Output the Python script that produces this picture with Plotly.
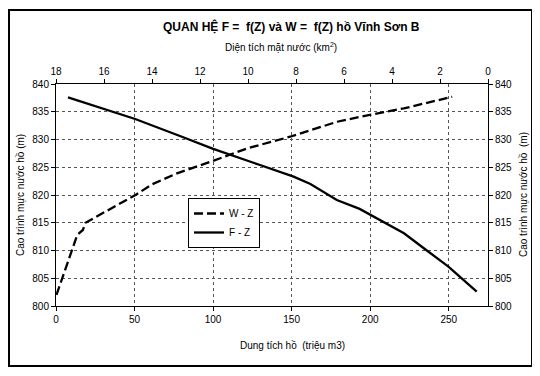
import plotly.graph_objects as go

# W - Z : storage (million m3) vs water level (m)
W_storage = [0.3, 4.0, 9.7, 13.5, 17.1, 18.8, 34.0, 50.6, 61.0, 77.0, 99.4, 121.7, 149.0, 179.0, 199.0, 221.4, 252.2]
W_level = [802.0, 805.0, 810.0, 812.8, 813.7, 815.0, 817.4, 820.0, 821.9, 823.9, 826.1, 828.4, 830.5, 833.2, 834.4, 835.6, 837.7]

# F - Z : surface area (km2) vs water level (m)
F_area = [17.5, 14.7, 12.7, 11.45, 9.5, 8.1, 7.4, 6.3, 5.35, 4.3, 3.5, 2.55, 1.65, 0.47]
F_level = [837.6, 833.7, 830.4, 828.3, 825.4, 823.3, 822.0, 819.1, 817.5, 815.0, 813.1, 810.0, 807.1, 802.6]

storage_ticks = [0, 50, 100, 150, 200, 250]
area_ticks = [18, 16, 14, 12, 10, 8, 6, 4, 2, 0]
level_ticks = [800, 805, 810, 815, 820, 825, 830, 835, 840]

FONT = "Liberation Sans, Arial, sans-serif"

# page is offset by the 8px body margin; figure is sized to fit the window
W_FIG, H_FIG = 532, 368
ML, MR, MT, MB = 48, 52, 76, 70
PW = W_FIG - ML - MR
PH = H_FIG - MT - MB


def px(page_x):
    return (page_x - 8 - ML) / PW


def py(page_y):
    return (H_FIG - MB - (page_y - 8)) / PH


fig = go.Figure()
fig.add_trace(go.Scatter(
    x=W_storage, y=W_level, mode="lines", name="W - Z",
    line=dict(color="black", width=2.3, dash="9px,4px"),
    xaxis="x", yaxis="y",
))
fig.add_trace(go.Scatter(
    x=F_area, y=F_level, mode="lines", name="F - Z",
    line=dict(color="black", width=2.3),
    xaxis="x2", yaxis="y2",
))

axis_common = dict(
    showline=True, linecolor="black", linewidth=1,
    ticks="outside", ticklen=4, tickcolor="black",
    tickfont=dict(family=FONT, size=10, color="black"),
    zeroline=False,
)

fig.update_layout(
    width=W_FIG, height=H_FIG,
    margin=dict(l=ML, r=MR, t=MT, b=MB, autoexpand=False),
    paper_bgcolor="white", plot_bgcolor="white",
    font=dict(family=FONT, size=10, color="black"),
    showlegend=True,
    legend=dict(
        x=px(188), y=py(198), xanchor="left", yanchor="top",
        bordercolor="black", borderwidth=1, bgcolor="white",
        font=dict(family=FONT, size=10, color="black"),
        tracegroupgap=0, itemwidth=30,
    ),
    xaxis=dict(
        range=[0, 275], tickvals=storage_ticks,
        showgrid=True, gridcolor="#555", gridwidth=1, griddash="dot",
        **axis_common,
    ),
    xaxis2=dict(
        range=[18, 0], tickvals=area_ticks, overlaying="x", side="top",
        anchor="y", showgrid=False,
        **axis_common,
    ),
    yaxis=dict(
        range=[800, 840], tickvals=level_ticks,
        showgrid=True, gridcolor="#555", gridwidth=1, griddash="dot",
        **axis_common,
    ),
    yaxis2=dict(
        range=[800, 840], tickvals=level_ticks, overlaying="y", side="right",
        anchor="x", showgrid=False,
        **axis_common,
    ),
)

annots = [
    ("<b>QUAN HỆ F =  f(Z) và W =  f(Z) hồ Vĩnh Sơn B</b>", 291, 27, 12),
    ("Diện tích mặt nước (km<sup>2</sup>)", 281, 47, 10),
    ("Dung tích hồ  (triệu m3)", 292, 345, 10),
]
for text, xx, yy, size in annots:
    fig.add_annotation(text=text, x=px(xx), y=py(yy), xref="paper", yref="paper",
                       xanchor="center", yanchor="middle", showarrow=False,
                       font=dict(family=FONT, size=size, color="black"))

fig.add_annotation(text="Cao trình mực nước hồ (m)", x=px(20), y=0.5,
                   xref="paper", yref="paper", textangle=-90, showarrow=False,
                   xanchor="center", yanchor="middle",
                   font=dict(family=FONT, size=10, color="black"))
fig.add_annotation(text="Cao trình mực nước hồ  (m)", x=px(523), y=0.5,
                   xref="paper", yref="paper", textangle=-90, showarrow=False,
                   xanchor="center", yanchor="middle",
                   font=dict(family=FONT, size=10, color="black"))

fig.add_shape(type="rect", xref="paper", yref="paper",
              x0=px(9), x1=px(532), y0=py(366), y1=py(10),
              line=dict(color="black", width=2))

fig.write_html("out.html")
